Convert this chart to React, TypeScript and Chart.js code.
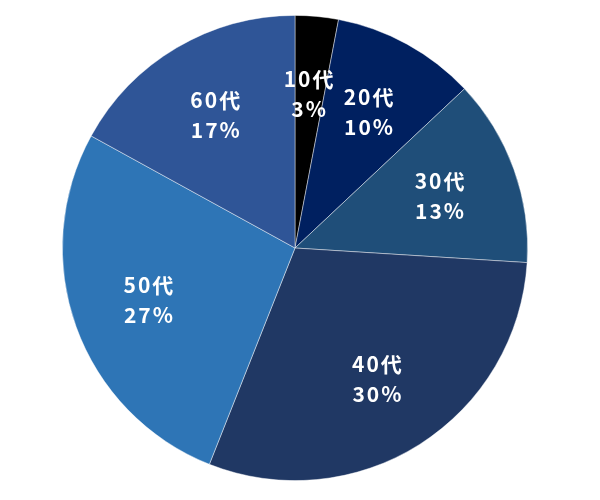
import { useEffect, useRef } from 'react';
import { Chart, registerables } from 'chart.js';
Chart.register(...registerables);

const labels = ['10代', '20代', '30代', '40代', '50代', '60代'];
const shares = [3, 10, 13, 30, 27, 17];
const colors = ['#000000', '#002060', '#1F4E79', '#203864', '#2E75B6', '#2F5597'];

// draws "10代 / 3%" inside each slice
const sliceLabels = {
  id: 'sliceLabels',
  afterDatasetsDraw(chart: any) {
    const { ctx } = chart;
    const meta = chart.getDatasetMeta(0);
    ctx.save();
    ctx.fillStyle = '#ffffff';
    ctx.font = 'bold 21px "Noto Sans CJK JP", sans-serif';
    ctx.textAlign = 'center';
    ctx.textBaseline = 'middle';
    (ctx as any).letterSpacing = '2px';
    meta.data.forEach((arc: any, i: number) => {
      const { x, y, startAngle, endAngle, outerRadius } = arc.getProps(['x', 'y', 'startAngle', 'endAngle', 'outerRadius']);
      const mid = (startAngle + endAngle) / 2;
      const r = outerRadius * 0.665;
      const cx = x + Math.cos(mid) * r;
      const cy = y + Math.sin(mid) * r;
      ctx.fillText(labels[i], cx, cy - 15);
      ctx.fillText(shares[i] + '%', cx, cy + 15);
    });
    ctx.restore();
  },
};

export default function App() {
  const canvasRef = useRef<HTMLCanvasElement>(null);

  useEffect(() => {
    document.body.style.margin = '0';
    const chart = new Chart(canvasRef.current!, {
      type: 'pie',
      data: {
        labels,
        datasets: [{
          data: shares,
          backgroundColor: colors,
          borderColor: 'rgba(255,255,255,0.55)',
          borderWidth: 0.8,
        }],
      },
      options: {
        responsive: false,
        animation: false,
        layout: { padding: { left: 62, right: 72, top: 15, bottom: 19 } },
        plugins: {
          legend: { display: false },
          tooltip: { enabled: false },
        },
      },
      plugins: [sliceLabels],
    });
    return () => { chart.destroy(); };
  }, []);

  return (
    <div style={{ width: 600, height: 500, background: '#fff' }}>
      <canvas ref={canvasRef} width={600} height={500} />
    </div>
  );
}
